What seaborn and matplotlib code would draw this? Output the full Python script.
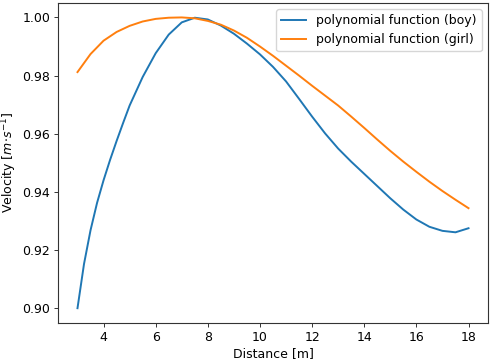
import pandas as pd
import matplotlib
matplotlib.use("Agg")
import matplotlib.pyplot as plt
import seaborn as sns

# distance [m] and velocity values
distance_boy = [3.0, 3.25, 3.5, 3.75, 4.0, 4.25, 4.5, 4.75, 5.0, 5.5, 6.0, 6.5, 7.0, 7.5,
                8.0, 8.5, 9.0, 9.5, 10.0, 10.5, 11.0, 11.5, 12.0, 12.5, 13.0, 13.5,
                14.0, 14.5, 15.0, 15.5, 16.0, 16.5, 17.0, 17.5, 18.0]
velocity_boy = [0.900, 0.9152, 0.9268, 0.9362, 0.9440, 0.9510, 0.9575, 0.9637, 0.9697,
                0.9795, 0.9877, 0.9941, 0.9983, 0.9999, 0.9993, 0.9972, 0.9944, 0.9910,
                0.9873, 0.9830, 0.9780, 0.9720, 0.9659, 0.9601, 0.9549, 0.9504, 0.9462,
                0.9420, 0.9378, 0.9339, 0.9305, 0.9280, 0.9266, 0.9261, 0.9275]

distance_girl = [3.0, 3.5, 4.0, 4.5, 5.0, 5.5, 6.0, 6.5, 7.0, 7.5, 8.0, 8.5, 9.0, 9.5,
                 10.0, 10.5, 11.0, 11.5, 12.0, 12.5, 13.0, 13.5, 14.0, 14.5, 15.0, 15.5,
                 16.0, 16.5, 17.0, 17.5, 18.0]
velocity_girl = [0.9812, 0.9874, 0.9920, 0.9950, 0.9971, 0.9986, 0.9995, 0.9999, 1.000,
                 0.9997, 0.9988, 0.9975, 0.9955, 0.9930, 0.9900, 0.9868, 0.9834, 0.9800,
                 0.9765, 0.9731, 0.9697, 0.9659, 0.9620, 0.9580, 0.9541, 0.9504, 0.9469,
                 0.9435, 0.9403, 0.9373, 0.9344]

df_boy = pd.DataFrame({"distance": distance_boy, "velocity": velocity_boy})
df_girl = pd.DataFrame({"distance": distance_girl, "velocity": velocity_girl})

fig = plt.figure(figsize=(4.91, 3.61), dpi=100)
ax = fig.add_axes([0.118, 0.106, 0.876, 0.886])

sns.lineplot(x="distance", y="velocity", data=df_boy, ax=ax,
             color="#1f77b4", linewidth=1.4, label="polynomial function (boy)")
sns.lineplot(x="distance", y="velocity", data=df_girl, ax=ax,
             color="#ff7f0e", linewidth=1.4, label="polynomial function (girl)")

ax.set_xlabel("Distance [m]", fontsize=9, labelpad=2.5)
ax.set_ylabel(r"Velocity $[m{\cdot}s^{-1}]$", fontsize=9, labelpad=2.5)
ax.tick_params(labelsize=9, length=2.8, pad=2.8, width=0.7, color="#333333")
for s in ax.spines.values():
    s.set_color("#333333")
    s.set_linewidth(0.8)
ax.legend(loc="upper right", fontsize=9)

fig.savefig("out.png", dpi=100)
